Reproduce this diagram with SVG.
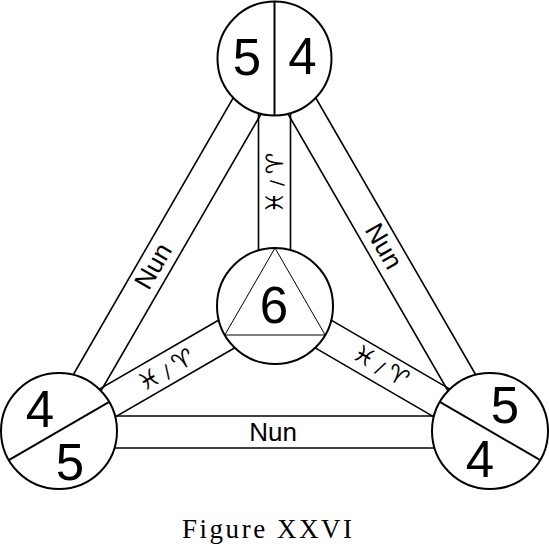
<svg xmlns="http://www.w3.org/2000/svg" width="549" height="550" viewBox="0 0 549 550">
<style>
.band{stroke:#000;stroke-width:1.6;fill:none}
.node{fill:#fff;stroke:#000;stroke-width:2}
.div{stroke:#000;stroke-width:2}
.tri{fill:none;stroke:#000;stroke-width:1}
.num{font-family:"Liberation Sans",Arial,sans-serif;font-size:51px;fill:#000;text-anchor:middle}
.nun{font-family:"Liberation Sans",Arial,sans-serif;font-size:26px;fill:#000;text-anchor:middle}
.sym{font-family:"DejaVu Sans",sans-serif;font-size:24px;fill:#000;text-anchor:middle}
.sl{font-size:18px}
.cap{font-family:"Liberation Serif","Times New Roman",serif;font-size:27px;fill:#000;text-anchor:middle}
</style>
<rect width="549" height="550" fill="#fff"/>
<g id="connectors">
  <line class="band" x1="288.4" y1="66.5" x2="72.9" y2="439.5"/>
  <line class="band" x1="260.6" y1="50.5" x2="45.1" y2="423.5"/>
  <line class="band" x1="288.4" y1="50.5" x2="503.9" y2="423.5"/>
  <line class="band" x1="260.6" y1="66.5" x2="476.1" y2="439.5"/>
  <line class="band" x1="59" y1="416" x2="490" y2="416"/>
  <line class="band" x1="59" y1="448" x2="490" y2="448" stroke-width="2"/>
  <line class="band" x1="258.5" y1="58" x2="258.5" y2="306"/>
  <line class="band" x1="290.5" y1="58" x2="290.5" y2="306"/>
  <line class="band" x1="283" y1="319.9" x2="67" y2="444.9"/>
  <line class="band" x1="267" y1="292.1" x2="51" y2="417.1"/>
  <line class="band" x1="267" y1="319.9" x2="482" y2="444.9"/>
  <line class="band" x1="283" y1="292.1" x2="498" y2="417.1"/>
  <text class="nun" transform="translate(153,266) rotate(-60)" y="9">Nun</text>
  <text class="nun" transform="translate(384,246) rotate(60)" y="9">Nun</text>
  <text class="nun" x="273" y="441">Nun</text>
  <text class="sym" transform="translate(274.5,183) rotate(-90)" y="8">♓<tspan class="sl"> / </tspan>♈</text>
  <text class="sym" transform="translate(166,370) rotate(-30)" y="8">♓<tspan class="sl"> / </tspan>♈</text>
  <text class="sym" transform="translate(381,366) rotate(30)" y="8">♓<tspan class="sl"> / </tspan>♈</text>
</g>
<g id="top">
  <circle class="node" cx="274.5" cy="58.5" r="57"/>
  <line class="div" x1="274.5" y1="1.5" x2="274.5" y2="115.5"/>
  <text class="num" x="247" y="75">5</text>
  <text class="num" x="302.5" y="74">4</text>
</g>
<g id="center">
  <circle class="node" cx="275" cy="306" r="58"/>
  <polygon class="tri" points="275,248 224.8,335 325.2,335"/>
  <text class="num" x="274" y="323">6</text>
</g>
<g id="bottom-left">
  <circle class="node" cx="59" cy="431" r="58"/>
  <line class="div" x1="108.8" y1="402.2" x2="9.2" y2="459.8"/>
  <text class="num" x="40" y="427">4</text>
  <text class="num" x="70" y="480">5</text>
</g>
<g id="bottom-right">
  <circle class="node" cx="490" cy="431" r="58"/>
  <line class="div" x1="440.2" y1="402.2" x2="539.8" y2="459.8"/>
  <text class="num" x="505" y="423">5</text>
  <text class="num" x="480" y="477">4</text>
</g>
<text class="cap" x="267" y="538" textLength="170" lengthAdjust="spacing">Figure XXVI</text>
</svg>
